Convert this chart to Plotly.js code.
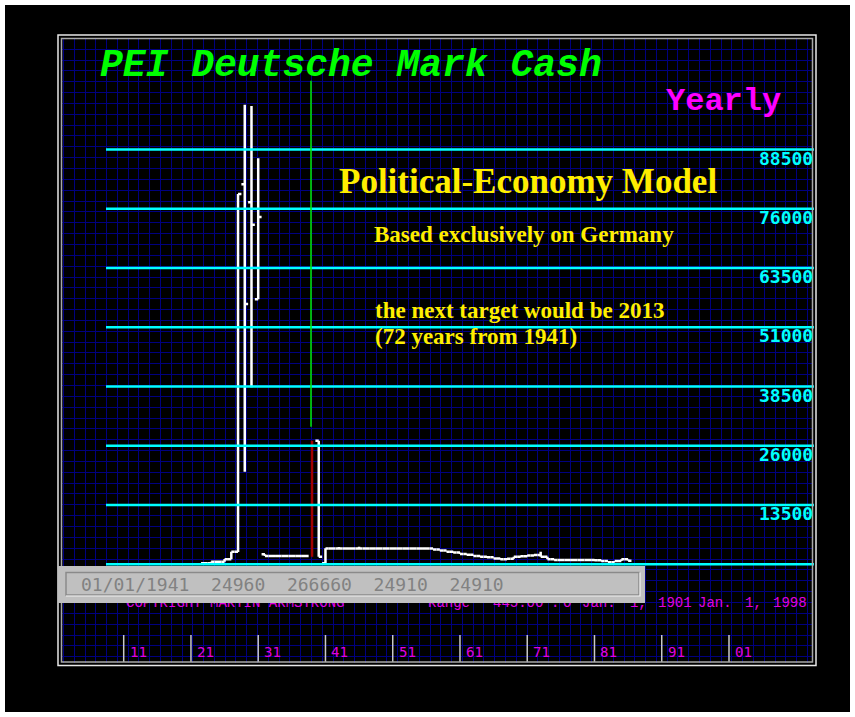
<!DOCTYPE html>
<html><head><meta charset="utf-8">
<script src="https://cdn.plot.ly/plotly-3.0.1.min.js"></script>
<style>html,body{margin:0;padding:0;background:#ffffff;} #chart{width:855px;height:717px;}</style>
</head><body><div id="chart"></div>
<script>
// ---- data ----
const years  = [1923,1924,1925,1926,1927,1928,1929,1930,1931,1932,1933,1934,1935,1936,1937,1938,1939,1940,
                1941,1942,1943,1944,1945,1946,1947,1948,1949,1950,1951,1952,1953,1954,1955,1956,1957,1958,1959,1960,
                1961,1962,1963,1964,1965,1966,1967,1968,1969,1970,1971,1972,1973,1974,1975,1976,1977,1978,1979,1980,
                1981,1982,1983,1984,1985,1986];
const opens  = [1200,1200,1540,1540,2050,3650,81160,77360,56900,3100,2740,2740,2740,2740,2740,2740,2740,27070,
                1200,4330,4330,4330,4330,4330,4330,4330,4330,4330,4330,4330,4330,4330,4330,4330,4330,4100,3900,3650,
                3500,3165,3000,2740,2600,2470,2200,2050,2170,2600,2700,2850,2950,2600,2050,1900,1900,1900,1900,1900,
                1900,1850,1700,1410,1700,2050];
const highs  = [1250,1540,1600,2100,3650,79100,97950,97680,86650,3100,2740,2740,2740,2740,2740,2740,27070,27070,
                4370,4330,4640,4330,4330,4700,4330,4330,4330,4330,4330,4330,4330,4330,4330,4330,4330,4100,3900,3650,
                3500,3165,3000,2740,2600,2470,2200,2170,2600,2700,2850,2950,3650,2600,2050,1900,1900,1900,1900,1900,
                1900,1850,1700,1700,2050,2050];
const lows   = [1150,1200,1540,1540,2050,3590,20530,38330,56900,2740,2740,2740,2740,2740,2740,2740,2600,2600,
                1200,4330,4330,4330,4330,4330,4330,4330,4330,4330,4330,4330,4330,4330,4330,4330,4100,3900,3650,3500,
                3165,3000,2740,2600,2470,2200,2050,2050,2170,2600,2700,2850,2600,2050,1900,1900,1900,1900,1900,1900,
                1850,1700,1410,1410,1700,1750];
const closes = [1200,1540,1540,2050,3650,79100,55900,72640,74260,2740,2740,2740,2740,2740,2740,2740,2600,2600,
                4330,4330,4330,4330,4330,4330,4330,4330,4330,4330,4330,4330,4330,4330,4330,4330,4100,3900,3650,3500,
                3165,3000,2740,2600,2470,2200,2050,2170,2600,2700,2850,2950,2600,2050,1900,1900,1900,1900,1900,1900,
                1850,1700,1410,1700,2050,1750];
const cursorYear = 1939;

const levelValues = [88500, 76000, 63500, 51000, 38500, 26000, 13500, 1000];
const levelLabels = ['88500','76000','63500','51000','38500','26000','13500',''];

const tickYears  = [1911,1921,1931,1941,1951,1961,1971,1981,1991,2001];
const tickLabels = ['11','21','31','41','51','61','71','81','91','01'];

const statusTexts = ['01/01/1941','24960','266660','24910','24910'];
const copyTexts = ['COPYRIGHT MARTIN ARMSTRONG','Range','445.00',':','0','Jan.','1,','1901','Jan.','1,','1998'];
const copyPx    = [126, 428, 493, 551, 563, 582, 630, 658, 698, 745, 773];

// ---- layout geometry (pixels) ----
const W = 855, H = 717, L = 61, R = 813, T = 38, B = 663;
const px2x = px => (px - L) / (R - L);            // paper x
const py2y = py => 1 - (py - T) / (B - T);        // paper y
const pxYear = px => 1911 + (px - 123.7) / 6.7256; // data x from pixel (text placement only)
const pyVal = py => (569 - py) / 0.00474;           // data y from pixel (text placement only)

// split main series and highlighted (cursor) bar
const idx = years.map((y,i)=>i);
const mainI = idx.filter(i => years[i] !== cursorYear);
const curI  = idx.filter(i => years[i] === cursorYear);
const pick = (arr, ii) => ii.map(i => arr[i]);

const traces = [
  {
    type: 'ohlc', x: pick(years, mainI), open: pick(opens, mainI), high: pick(highs, mainI),
    low: pick(lows, mainI), close: pick(closes, mainI), tickwidth: 0.5,
    increasing: {line: {color: '#ffffff', width: 2.5}}, decreasing: {line: {color: '#ffffff', width: 2.5}},
    hoverinfo: 'skip', showlegend: false
  },
  {
    type: 'ohlc', x: pick(years, curI), open: pick(opens, curI), high: pick(highs, curI),
    low: pick(lows, curI), close: pick(closes, curI), tickwidth: 0.02,
    increasing: {line: {color: '#a00000', width: 2.5}}, decreasing: {line: {color: '#a00000', width: 2.5}},
    hoverinfo: 'skip', showlegend: false
  },
  {
    type: 'scatter', mode: 'text', x: copyPx.map(pxYear), y: copyPx.map(() => pyVal(603)),
    text: copyTexts, textposition: 'middle right', cliponaxis: false,
    textfont: {family: 'Liberation Mono, monospace', size: 14, color: '#e000e0'},
    hoverinfo: 'skip', showlegend: false
  }
];

const shapes = [];
// cyan level lines
levelValues.forEach(v => shapes.push({type:'line', xref:'paper', yref:'y', x0:px2x(106), x1:px2x(814), y0:v, y1:v,
  line:{color:'#00ffff', width:2.5}, layer:'above'}));
// decade tick lines
tickYears.forEach(yr => shapes.push({type:'line', xref:'x', yref:'paper', x0:yr, x1:yr, y0:py2y(635), y1:py2y(662),
  line:{color:'#c8c8c8', width:1.5}, layer:'above'}));
// cursor line
shapes.push({type:'line', xref:'x', yref:'paper', x0:cursorYear - 0.15, x1:cursorYear - 0.15, y0:py2y(80.7), y1:py2y(426.7),
  line:{color:'#00ee00', width:1.5}, layer:'above'});
// panel borders
shapes.push({type:'rect', xref:'paper', yref:'paper', x0:px2x(58), x1:px2x(816), y0:py2y(35), y1:py2y(665.5),
  line:{color:'#e8e8e8', width:1.5}, layer:'above'});
shapes.push({type:'rect', xref:'paper', yref:'paper', x0:px2x(61.5), x1:px2x(812.5), y0:py2y(38.5), y1:py2y(662),
  line:{color:'#a8a8a8', width:1.5}, layer:'above'});
// white page frame
shapes.push({type:'rect', xref:'paper', yref:'paper', x0:px2x(2.5), x1:px2x(852.5), y0:py2y(2.5), y1:py2y(714.5),
  line:{color:'#ffffff', width:5}, layer:'above'});
// status box
shapes.push({type:'rect', xref:'paper', yref:'paper', x0:px2x(58), x1:px2x(645), y0:py2y(566), y1:py2y(603),
  fillcolor:'#c0c0c0', line:{width:0}, layer:'above'});
shapes.push({type:'rect', xref:'paper', yref:'paper', x0:px2x(66), x1:px2x(639), y0:py2y(572.5), y1:py2y(595),
  fillcolor:'rgba(0,0,0,0)', line:{color:'#8a8a8a', width:1.5}, layer:'above'});
shapes.push({type:'path', xref:'paper', yref:'paper',
  path:`M ${px2x(66)} ${py2y(596)} L ${px2x(640)} ${py2y(596)} L ${px2x(640)} ${py2y(572.5)}`,
  line:{color:'#f0f0f0', width:1.2}, layer:'above'});

const annotations = [];
annotations.push({xref:'paper', yref:'paper', x:px2x(98), y:py2y(65), xanchor:'left', yanchor:'middle', showarrow:false,
  text:'<b><i>PEI Deutsche Mark Cash</i></b>', font:{family:'Liberation Mono, monospace', size:38, color:'#00ff00'}});
annotations.push({xref:'paper', yref:'paper', x:px2x(664), y:py2y(101), xanchor:'left', yanchor:'middle', showarrow:false,
  text:'<b>Yearly</b>', font:{family:'Liberation Mono, monospace', size:32, color:'#ff00ff'}});
annotations.push({xref:'paper', yref:'paper', x:px2x(337), y:py2y(181), xanchor:'left', yanchor:'middle', showarrow:false,
  text:'<b>Political-Economy Model</b>', font:{family:'Liberation Serif, serif', size:35, color:'#ffee00'}});
annotations.push({xref:'paper', yref:'paper', x:px2x(372), y:py2y(235), xanchor:'left', yanchor:'middle', showarrow:false,
  text:'<b>Based exclusively on Germany</b>', font:{family:'Liberation Serif, serif', size:23, color:'#ffee00'}});
annotations.push({xref:'paper', yref:'paper', x:px2x(373), y:py2y(310), xanchor:'left', yanchor:'middle', showarrow:false,
  text:'<b>the next target would be 2013</b>', font:{family:'Liberation Serif, serif', size:23, color:'#ffee00'}});
annotations.push({xref:'paper', yref:'paper', x:px2x(373), y:py2y(337), xanchor:'left', yanchor:'middle', showarrow:false,
  text:'<b>(72 years from 1941)</b>', font:{family:'Liberation Serif, serif', size:23, color:'#ffee00'}});
levelValues.forEach((v,i) => { if (levelLabels[i]) annotations.push({xref:'paper', yref:'y', x:px2x(815), y:v,
  xanchor:'right', yanchor:'top', yshift:4, showarrow:false, text:'<b>'+levelLabels[i]+'</b>',
  font:{family:'DejaVu Sans Mono, monospace', size:18, color:'#00ffff'}}); });
tickYears.forEach((yr,i) => annotations.push({xref:'x', yref:'paper', x:yr, y:py2y(652), xanchor:'left', yanchor:'middle',
  xshift:4, showarrow:false, text:tickLabels[i], font:{family:'DejaVu Sans Mono, monospace', size:14, color:'#e000e0'}}));
annotations.push({xref:'paper', yref:'paper', x:px2x(79), y:py2y(584), xanchor:'left', yanchor:'middle', showarrow:false,
  text: statusTexts.join('\u00a0\u00a0'), font:{family:'DejaVu Sans Mono, monospace', size:18, color:'#828282'}});

const layout = {
  width: W, height: H, margin: {l: L, r: W - R, t: T, b: H - B, pad: 0},
  paper_bgcolor: '#000000', plot_bgcolor: '#000000', showlegend: false,
  xaxis: {range: [1901.677, 2013.49], tickmode: 'linear', tick0: 1902.049, dtick: 1.6029, showgrid: true,
    gridcolor: '#000080', gridwidth: 1, showticklabels: false, ticks: '', zeroline: false, showline: false,
    rangeslider: {visible: false}, fixedrange: true},
  yaxis: {range: [-19831, 112025], tickmode: 'linear', tick0: 111962, dtick: 2289, showgrid: true,
    gridcolor: '#000080', gridwidth: 1, showticklabels: false, ticks: '', zeroline: false, showline: false, fixedrange: true},
  shapes: shapes, annotations: annotations
};
Plotly.newPlot('chart', traces, layout, {displayModeBar: false, staticPlot: true});
</script></body></html>
